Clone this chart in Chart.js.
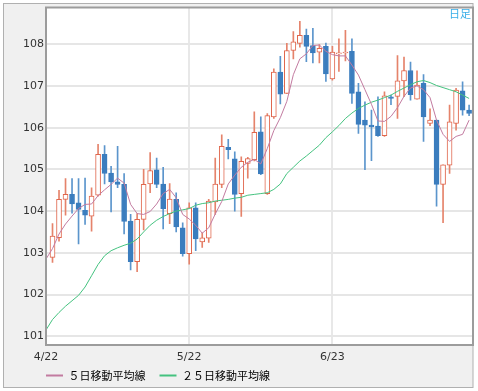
<!DOCTYPE html>
<html lang="ja">
<head>
<meta charset="UTF-8">
<title>日足</title>
<script src="https://cdn.jsdelivr.net/npm/chart.js"></script>
<style>
  html, body { margin: 0; padding: 0; background: #fff; }
  canvas { display: block; }
</style>
</head>
<body>
<canvas id="chart" width="478" height="391"></canvas>
<script>
// candles, one per trading day (day 1 .. 65)
const opens  = [102.89, 103.36, 104.28, 104.40, 104.20, 104.02, 103.88, 104.38, 105.36, 104.91,
                104.70, 104.64, 103.76, 102.79, 103.80, 104.65, 104.99, 104.65, 103.94, 104.28,
                103.60, 102.98, 104.08, 103.26, 103.35, 104.22, 104.64, 105.53, 105.25, 104.42,
                105.14, 105.23, 105.90, 104.42, 106.26, 107.33, 106.82, 107.85, 108.02, 108.21,
                107.97, 107.81, 107.95, 107.17, 107.77, 107.79, 107.83, 106.86, 106.18, 106.06,
                106.04, 105.81, 106.74, 106.75, 107.12, 107.37, 106.68, 107.06, 106.10, 106.18,
                104.64, 105.10, 106.10, 106.88, 106.42];
const highs  = [103.70, 104.50, 104.78, 104.78, 104.78, 104.79, 104.56, 105.60, 105.57, 105.07,
                105.55, 104.90, 103.92, 103.94, 105.00, 105.40, 105.27, 105.05, 104.66, 104.44,
                103.72, 104.20, 104.20, 103.48, 104.28, 105.27, 105.83, 105.72, 105.42, 105.30,
                105.29, 106.38, 106.26, 106.34, 107.41, 107.71, 108.02, 108.30, 108.55, 108.36,
                108.38, 107.99, 108.03, 107.95, 108.13, 108.33, 108.13, 107.06, 106.62, 106.42,
                106.74, 106.86, 106.78, 107.73, 107.69, 107.57, 107.36, 107.27, 106.45, 106.18,
                105.11, 106.54, 106.94, 107.10, 106.54];
const lows   = [102.77, 103.28, 103.90, 103.95, 103.21, 103.68, 103.52, 104.36, 104.65, 103.98,
                104.56, 103.45, 102.59, 102.55, 103.55, 104.44, 104.56, 103.57, 103.70, 103.50,
                102.92, 102.73, 103.05, 103.13, 103.25, 103.92, 104.56, 105.25, 104.00, 103.87,
                104.79, 105.20, 104.87, 104.40, 106.22, 106.57, 106.82, 107.65, 107.93, 107.58,
                107.55, 107.55, 107.11, 107.14, 107.35, 107.60, 106.58, 105.86, 104.99, 105.21,
                105.79, 105.79, 106.55, 106.22, 106.74, 106.66, 106.68, 105.67, 106.05, 104.12,
                103.72, 104.90, 105.94, 106.30, 106.29];
const closes = [103.40, 104.28, 104.40, 104.17, 104.04, 103.90, 104.36, 105.36, 104.90, 104.70,
                104.64, 103.75, 102.79, 103.80, 104.64, 104.97, 104.64, 104.06, 104.29, 103.62,
                102.98, 104.08, 103.33, 103.36, 104.24, 104.65, 105.55, 105.47, 104.40, 105.19,
                105.26, 105.89, 104.89, 106.29, 107.33, 106.80, 107.85, 108.06, 108.21, 107.95,
                107.79, 107.90, 107.29, 107.81, 107.79, 107.81, 106.82, 106.08, 106.06, 106.02,
                105.81, 106.76, 106.70, 107.12, 107.37, 106.79, 107.02, 106.26, 106.18, 104.64,
                105.11, 106.14, 106.90, 106.42, 106.34];

// moving averages, day 0 .. 65
const ma5  = [102.85, 103.10, 103.45, 103.69, 103.88, 104.06, 104.16, 104.17, 104.37, 104.51,
              104.64, 104.79, 104.67, 104.16, 103.94, 103.92, 103.99, 104.17, 104.42, 104.52,
              104.32, 103.92, 103.81, 103.66, 103.47, 103.60, 103.93, 104.23, 104.65, 104.86,
              105.05, 105.17, 105.24, 105.13, 105.50, 105.93, 106.24, 106.63, 107.27, 107.65,
              107.77, 107.97, 107.98, 107.83, 107.75, 107.72, 107.72, 107.50, 107.26, 106.91,
              106.56, 106.16, 106.15, 106.27, 106.48, 106.75, 106.95, 107.00, 106.91, 106.72,
              106.18, 105.84, 105.67, 105.79, 105.84, 106.18];
const ma25 = [101.15, 101.40, 101.57, 101.72, 101.85, 101.98, 102.18, 102.45, 102.72, 102.93,
              103.05, 103.12, 103.18, 103.23, 103.33, 103.50, 103.66, 103.78, 103.87, 103.94,
              104.00, 104.03, 104.06, 104.14, 104.18, 104.20, 104.24, 104.26, 104.28, 104.31,
              104.33, 104.38, 104.40, 104.42, 104.44, 104.52, 104.65, 104.90, 105.05, 105.20,
              105.32, 105.45, 105.58, 105.76, 105.90, 106.05, 106.22, 106.35, 106.46, 106.54,
              106.61, 106.66, 106.72, 106.78, 106.87, 106.95, 107.03, 107.10, 107.13, 107.08,
              107.01, 106.96, 106.91, 106.86, 106.78, 106.70];

const tickDays   = [0, 22, 44];
const tickLabels = ['4/22', '5/22', '6/23'];

const RED = '#e0664c', RED_WICK = '#e5836b';
const BLUE = '#3b7dbe', BLUE_WICK = '#5b95cc';

const up = closes.map((c, k) => c >= opens[k]);

// grey frame, white plot, border and the "日足" mark
const framePlugin = {
  id: 'frame',
  afterLayout(chart) {
    // legend sits under the plot, starting at its left edge
    const lg = chart.legend;
    lg.left = chart.chartArea.left - 14;
    lg.top -= 6.5;
  },
  beforeDraw(chart) {
    const { ctx, chartArea: a } = chart;
    ctx.save();
    ctx.fillStyle = '#fff';
    ctx.fillRect(0, 0, chart.width, chart.height);
    ctx.fillStyle = '#f0f0f0';
    ctx.fillRect(3, 3, a.right - 3, 385);
    ctx.fillStyle = '#fff';
    ctx.fillRect(a.left, a.top, a.width, a.height);
    ctx.restore();
  },
  afterDraw(chart) {
    const { ctx, chartArea: a } = chart;
    ctx.save();
    ctx.strokeStyle = '#b0b0b0';
    ctx.lineWidth = 1;
    ctx.strokeRect(3.5, 3.5, a.right - 3.5, 384);
    ctx.strokeStyle = '#9c9c9c';
    ctx.lineWidth = 2;
    ctx.strokeRect(a.left, a.top, a.width, a.height);
    ctx.font = "11px 'Noto Sans CJK JP'";
    ctx.fillStyle = '#39aee8';
    ctx.textAlign = 'right';
    ctx.textBaseline = 'top';
    ctx.fillText('日足', a.right - 2, a.top + 1);
    ctx.restore();
  }
};

const tickFont = { family: "'DejaVu Sans'", size: 11, lineHeight: 1 };

new Chart(document.getElementById('chart'), {
  type: 'bar',
  data: {
    datasets: [
      {
        label: '５日移動平均線',
        type: 'line',
        data: ma5.map((v, i) => ({ x: i, y: v })),
        borderColor: '#c27ba0',
        backgroundColor: '#c27ba0',
        borderWidth: 1,
        pointRadius: 0,
        tension: 0,
        order: 0
      },
      {
        label: '２５日移動平均線',
        type: 'line',
        data: ma25.map((v, i) => ({ x: i, y: v })),
        borderColor: '#44c27f',
        backgroundColor: '#44c27f',
        borderWidth: 1,
        pointRadius: 0,
        tension: 0,
        order: 1
      },
      {
        label: 'body',
        data: opens.map((o, k) => ({ x: k + 1, y: [o, closes[k]] })),
        backgroundColor: up.map(u => u ? '#fff' : BLUE),
        borderColor: up.map(u => u ? RED : BLUE),
        borderWidth: 1,
        borderSkipped: false,
        barThickness: 5,
        minBarLength: 1,
        grouped: false,
        order: 2
      },
      {
        label: 'wick',
        data: highs.map((h, k) => ({ x: k + 1, y: [lows[k], h] })),
        backgroundColor: up.map(u => u ? RED_WICK : BLUE_WICK),
        borderWidth: 0,
        barThickness: 1,
        grouped: false,
        order: 3
      }
    ]
  },
  options: {
    responsive: false,
    animation: false,
    layout: { padding: { left: 3, right: 5, top: 5, bottom: 0 } },
    scales: {
      x: {
        type: 'linear',
        min: 0,
        max: 65.6,
        offset: false,
        grid: { color: '#e8e8e8', lineWidth: 2, drawTicks: false, offset: false },
        border: { display: false },
        afterBuildTicks: s => { s.ticks = tickDays.map(v => ({ value: v })); },
        afterFit: s => { s.height = 17.5; },
        ticks: {
          callback: (v, i) => tickLabels[i],
          padding: 6.5,
          maxRotation: 0,
          autoSkip: false,
          color: '#333',
          font: tickFont
        }
      },
      y: {
        min: 100.79,
        max: 108.88,
        grid: { color: '#e6e6e6', lineWidth: 2, drawTicks: false },
        border: { display: false },
        afterFit: s => { s.width = 43; },
        ticks: {
          stepSize: 1,
          includeBounds: false,
          padding: 2,
          color: '#333',
          font: tickFont
        }
      }
    },
    plugins: {
      tooltip: { enabled: false },
      legend: {
        position: 'bottom',
        align: 'start',
        maxHeight: 28.5,
        labels: {
          boxWidth: 17,
          boxHeight: 2,
          padding: 14,
          color: '#333',
          font: { family: "'Noto Sans CJK JP'", size: 11 },
          generateLabels: chart => chart.data.datasets.slice(0, 2).map((d, i) => ({
            text: d.label,
            fillStyle: d.borderColor,
            strokeStyle: d.borderColor,
            lineWidth: 0,
            hidden: false,
            datasetIndex: i
          }))
        }
      }
    }
  },
  plugins: [framePlugin]
});
</script>
</body>
</html>
